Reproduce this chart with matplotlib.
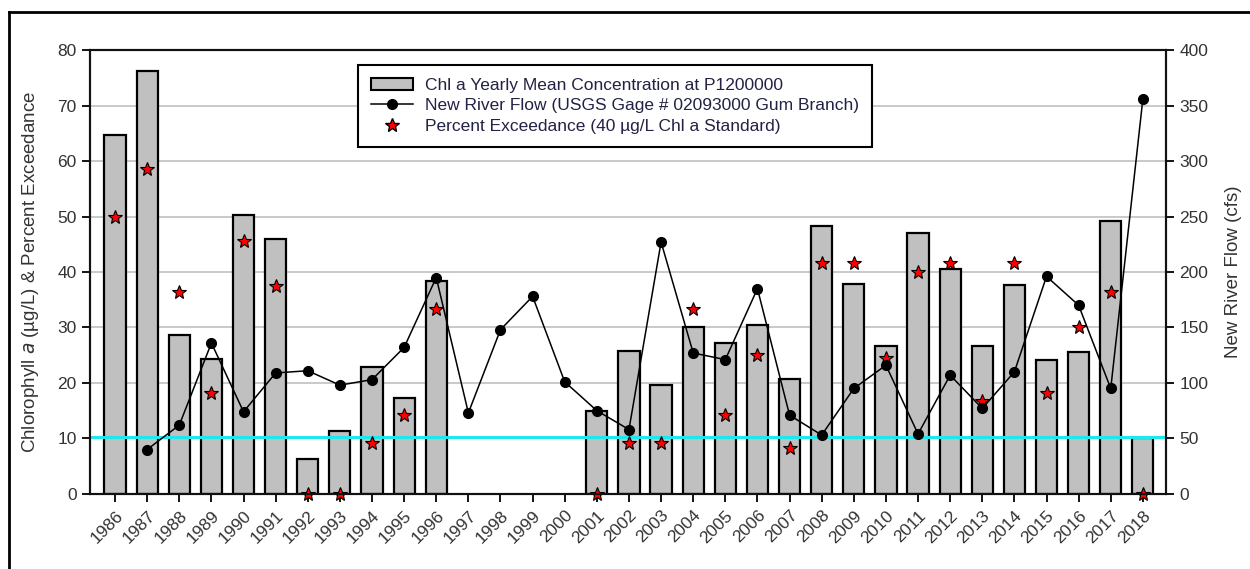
import numpy as np
import matplotlib.pyplot as plt
from matplotlib.lines import Line2D

plt.rcParams['font.family'] = ['Liberation Sans', 'DejaVu Sans']

years = [str(y) for y in range(1986, 2019)]

# yearly mean chl a (ug/L), None = no data
chl_mean = [64.7, 76.2, 28.6, 24.3, 50.3, 46.0, 6.3, 11.3, 22.9, 17.2, 38.3,
            None, None, None, None,
            15.0, 25.7, 19.6, 30.1, 27.2, 30.4, 20.7, 48.2, 37.9, 26.7, 47.0,
            40.5, 26.7, 37.6, 24.2, 25.6, 49.2, 10.0]

# percent exceedance of 40 ug/L standard
pct_exceed = [50.0, 58.5, 36.4, 18.2, 45.5, 37.5, 0.0, 0.0, 9.1, 14.3, 33.3,
              None, None, None, None,
              0.0, 9.1, 9.1, 33.3, 14.3, 25.0, 8.3, 41.7, 41.7, 24.5, 40.0,
              41.7, 16.7, 41.7, 18.2, 30.0, 36.4, 0.0]

# New River flow (cfs)
flow = [None, 40, 62, 136, 74, 109, 111, 98, 103, 132, 195,
        73, 148, 178, 101, 75, 58, 227, 127, 121, 185, 71, 53, 95, 116, 54,
        107, 77, 110, 196, 170, 95, 356]

threshold = 10.2

x = np.arange(len(years))
bar_y = np.array([np.nan if v is None else v for v in chl_mean])
pct_y = np.array([np.nan if v is None else v for v in pct_exceed])
flow_y = np.array([np.nan if v is None else v for v in flow], dtype=float)

fig = plt.figure(figsize=(12.5, 5.69), dpi=100)
ax1 = fig.add_axes([0.072, 0.132, 0.8608, 0.780])
ax2 = ax1.twinx()

ax1.set_axisbelow(True)
ax1.grid(axis='y', color='#c0c0c0', linewidth=1.2)
bars = ax1.bar(x, bar_y, width=0.66, color='#c0c0c0', edgecolor='black',
               linewidth=1.6, zorder=2)
ax1.axhline(threshold, color='#1fe8ec', linewidth=2.2, zorder=3)
ax1.plot(x, pct_y, linestyle='none', marker='*', markersize=10,
         markerfacecolor='red', markeredgecolor='black', markeredgewidth=0.8,
         zorder=4, clip_on=False)

mask = ~np.isnan(flow_y)
ax2.plot(x[mask], flow_y[mask], color='black', linewidth=1.1, marker='o',
         markersize=7, zorder=5)

ax1.set_xlim(-0.78, 32.72)
ax1.set_ylim(0, 80)
ax2.set_ylim(0, 400)
ax1.set_yticks(range(0, 81, 10))
ax2.set_yticks(range(0, 401, 50))
ax1.set_xticks(x)
ax1.set_xticklabels(years, rotation=45, ha='right', rotation_mode='anchor',
                    fontsize=8.5, color='#333355')

for ax in (ax1, ax2):
    for s in ax.spines.values():
        s.set_linewidth(1.5)
        s.set_color('#111111')
    ax.tick_params(direction='out', length=6, width=1.3, labelsize=12.5,
                   labelcolor='#333333')
ax1.tick_params(axis='x', length=6, pad=4)

ax1.set_ylabel('Chlorophyll $\\it{a}$ (µg/L) & Percent Exceedance',
               fontsize=13.5, color='#333333', labelpad=12)
ax2.set_ylabel('New River Flow (cfs)', fontsize=13.5, color='#333333',
               labelpad=12)

handles = [
    plt.Rectangle((0, 0), 1, 1, facecolor='#c0c0c0', edgecolor='black',
                  linewidth=1.5),
    Line2D([], [], color='black', linewidth=1.1, marker='o', markersize=7),
    Line2D([], [], linestyle='none', marker='*', markersize=10,
           markerfacecolor='red', markeredgecolor='black'),
]
labels = ['Chl a Yearly Mean Concentration at P1200000',
          'New River Flow (USGS Gage # 02093000 Gum Branch)',
          'Percent Exceedance (40 µg/L Chl a Standard)']
leg = ax2.legend(handles, labels, loc='upper left',
                 bbox_to_anchor=(0.249, 0.967), fontsize=12.5,
                 frameon=True, fancybox=False, edgecolor='black',
                 framealpha=1, borderpad=0.75, labelspacing=0.3,
                 handlelength=2.4, handletextpad=0.7, borderaxespad=0)
leg.get_frame().set_linewidth(1.5)
for t in leg.get_texts():
    t.set_color('#222244')

# outer frame of the original figure
fig.add_artist(Line2D([0.0072, 0.0072], [0.0, 0.979], color='black',
                      linewidth=2, transform=fig.transFigure))
fig.add_artist(Line2D([0.0072, 1.0], [0.979, 0.979], color='black',
                      linewidth=2, transform=fig.transFigure))

fig.savefig('out.png', dpi=100)
